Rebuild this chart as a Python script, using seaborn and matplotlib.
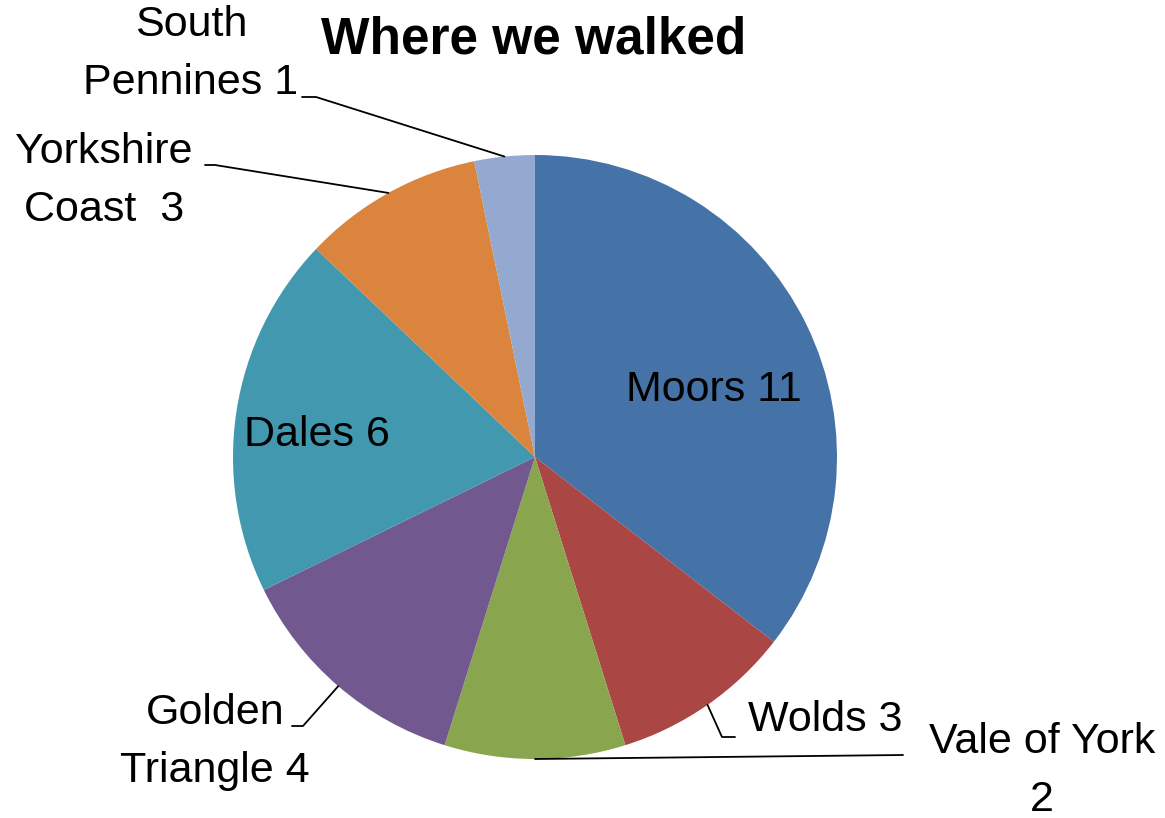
import numpy as np
import matplotlib
matplotlib.use("Agg")
import matplotlib.pyplot as plt
import seaborn as sns

sns.set_theme(style="white")
plt.rcParams['font.family'] = ['Liberation Sans', 'DejaVu Sans']

# Data
regions = ["Moors", "Wolds", "Vale of York", "Golden Triangle", "Dales", "Yorkshire Coast", "South Pennines"]
walks = [11, 3, 3, 4, 6, 3, 1]          # slice sizes as drawn
label_texts = ["Moors 11", "Wolds 3", "Vale of York\n2", "Golden\nTriangle 4",
               "Dales 6", "Yorkshire\nCoast  3", "South\nPennines 1"]
colors = ["#4572A7", "#AA4643", "#89A54E", "#71588F", "#4198AF", "#DB843D", "#93A9CF"]

W, H = 1165, 818
CX, CY, R = 535, 457, 302

def px(x, y):
    return ((x - CX) / R, (CY - y) / R)

fig = plt.figure(figsize=(W / 100, H / 100), dpi=100)
ax = fig.add_axes([0, 0, 1, 1])
pal = sns.color_palette(colors)
wedges, _ = ax.pie(walks, colors=pal, startangle=90, counterclock=False, radius=1,
                   wedgeprops=dict(linewidth=0))
ax.set_xlim(-CX / R, (W - CX) / R)
ax.set_ylim(-(H - CY) / R, CY / R)
ax.set_aspect('equal')
ax.axis('off')

fs = 31
# label centres (layout) in pixel coordinates
label_pos = [(714, 390), (825, 720), (1042, 771), (215, 742), (317, 435), (104, 181), (191, 54)]
for txt, (x, y) in zip(label_texts, label_pos):
    ax.text(*px(x, y), txt, ha='center', va='center', fontsize=fs, color='black',
            linespacing=1.6)

def anchor(w):
    t = np.deg2rad((w.theta1 + w.theta2) / 2)
    return np.cos(t), np.sin(t)

# leader lines: slice edge -> elbow -> end
leaders = {
    1: [(722, 737), (735, 737)],
    2: [(903, 755)],
    3: [(303, 726), (292, 726)],
    5: [(215, 165), (205, 165)],
    6: [(316, 97), (302, 97)],
}
for i, pts in leaders.items():
    a = anchor(wedges[i])
    xs = [a[0]] + [px(*p)[0] for p in pts]
    ys = [a[1]] + [px(*p)[1] for p in pts]
    ax.plot(xs, ys, color='black', lw=1.3)

ax.text(*px(534, 40), "Where we walked", ha='center', va='center', fontsize=37,
        fontweight='bold', color='black')

fig.savefig("out.png", dpi=100)
